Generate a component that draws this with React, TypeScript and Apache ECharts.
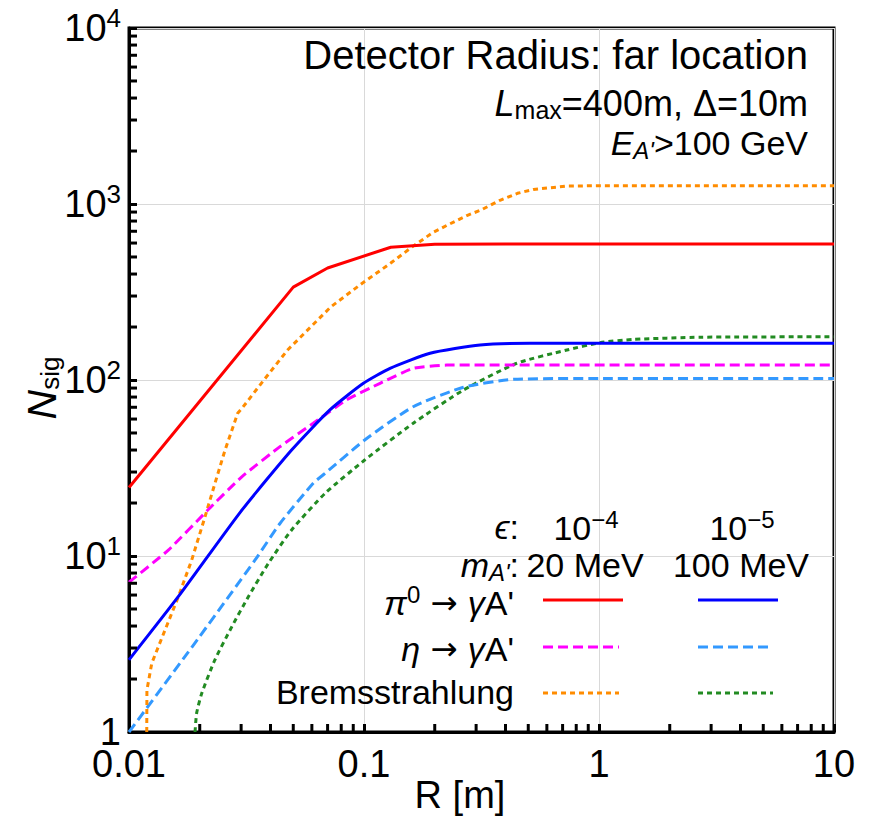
import React, { useEffect, useRef } from "react";
import * as echarts from "echarts";

const FONT = "'Liberation Sans', Arial, Helvetica, sans-serif";

// ---- data (R in m, N_sig) ----
const R_PI0_A = [0.01, 0.05, 0.07, 0.13, 0.2, 0.4, 10];
const N_PI0_A = [24.5, 337, 433, 568, 590, 593, 593];

const R_PI0_B = [0.01, 0.0162, 0.03, 0.0492, 0.0716, 0.0994, 0.129, 0.191, 0.312, 0.508, 10];
const N_PI0_B = [2.57, 5.87, 18, 40, 67.6, 95.8, 116.5, 141.8, 158, 161.6, 162];

const R_ETA_A = [0.01, 0.0147, 0.0217, 0.0302, 0.0439, 0.0608, 0.0843, 0.117, 0.162, 0.225, 10];
const N_ETA_A = [7.1, 10.8, 18.3, 28.2, 41.8, 56.8, 77, 95.8, 116.5, 121.5, 121.7];

const R_ETA_B = [0.01, 0.0185, 0.0344, 0.0439, 0.0608, 0.0683, 0.1007, 0.162, 0.265, 0.432, 1, 10];
const N_ETA_B = [1.0, 3.03, 9.5, 15.3, 25.9, 29.5, 45.6, 70.5, 90.9, 100.9, 102, 102];

const R_BREM_A = [0.0119, 0.01192, 0.0125, 0.01424, 0.01622, 0.01849, 0.02106, 0.02322, 0.02563, 0.029, 0.0305, 0.0375, 0.0473, 0.0595, 0.0724, 0.097, 0.13, 0.163, 0.197, 0.227, 0.274, 0.315, 0.379, 0.45, 0.526, 0.73, 1, 10];
const N_BREM_A = [1.0, 1.73, 2.46, 3.8, 5.87, 9.49, 16.7, 25.9, 40, 64.7, 70, 100, 148, 201, 261, 350, 462, 580, 690, 760, 860, 925, 1050, 1150, 1210, 1265, 1270, 1270];

const R_BREM_B = [0.0191, 0.0194, 0.0204, 0.0232, 0.0274, 0.0322, 0.0392, 0.0492, 0.0683, 0.1007, 0.162, 0.265, 0.447, 0.73, 1.01, 1.4, 2.69, 10];
const N_BREM_B = [1.0, 1.28, 1.66, 2.57, 3.97, 5.87, 9.09, 14.06, 22.7, 35.1, 56.8, 87.7, 124.5, 148, 163, 170, 175, 176];

// ---- axes ----
const X_MIN = 0.01, X_MAX = 10, Y_MIN = 1, Y_MAX = 10000;
const X_TICK_LABELS = ["0.01", "0.1", "1", "10"];
const X_MINOR = [0.02, 0.03, 0.04, 0.05, 0.06, 0.07, 0.08, 0.09, 0.2, 0.3, 0.4, 0.5, 0.6, 0.7, 0.8, 0.9, 2, 3, 4, 5, 6, 7, 8, 9];
const Y_MINOR = [2, 3, 4, 5, 6, 7, 8, 9, 20, 30, 40, 50, 60, 70, 80, 90, 200, 300, 400, 500, 600, 700, 800, 900, 2000, 3000, 4000, 5000, 6000, 7000, 8000, 9000];

const zip = (xs: number[], ys: number[]) => xs.map((x, i) => [x, ys[i]]);

const DASH = [10, 5];
const DOT = [5, 4];

export default function App() {
  const ref = useRef<HTMLDivElement>(null);
  useEffect(() => {
    if (!ref.current) return;
    const chart = echarts.init(ref.current, null, { renderer: "svg" });
    const line = (name: string, data: number[][], color: string, type: any, smooth: number) => ({
      name,
      type: "line",
      data,
      symbol: "none",
      showSymbol: false,
      smooth,
      lineStyle: { color, width: 3, type },
      z: 3,
    });
    const tickLen = 8;
    const richTick = {
      b: { fontSize: 38, fontFamily: FONT, color: "#000" },
      s: { fontSize: 26, fontFamily: FONT, color: "#000", padding: [0, 0, 20, 0] },
    };
    const txt = (x: number, y: number, text: string, size: number, align: string, rich?: any, extra?: any) => ({
      type: "text",
      x,
      y,
      z: 100,
      ...(extra || {}),
      style: {
        text,
        fontSize: size,
        fontFamily: FONT,
        fill: "#000",
        align,
        textAlign: align,
        verticalAlign: "middle",
        textVerticalAlign: "middle",
        rich,
      },
    });
    const richAnn = (size: number, sub: number) => ({
      n: { fontSize: size, fontFamily: FONT },
      i: { fontSize: size, fontFamily: FONT, fontStyle: "italic" },
      ar: { fontSize: size * 0.95, fontFamily: "'DejaVu Sans', sans-serif" },
      sub: { fontSize: sub, fontFamily: FONT, padding: [14, 0, 0, 0] },
      subi: { fontSize: sub, fontFamily: FONT, fontStyle: "italic", padding: [14, 0, 0, 0] },
      s: { fontSize: sub, fontFamily: FONT, padding: [0, 0, 18, 0] },
    });
    const lg = (x1: number, x2: number, y: number, color: string, dash: any) => ({
      type: "line",
      z: 100,
      shape: { x1, y1: y, x2, y2: y },
      style: { stroke: color, lineWidth: 3, lineDash: dash },
    });
    const ra = richAnn(34, 24);
    const rb = richAnn(36, 25);
    chart.setOption({
      animation: false,
      grid: { left: 129, top: 28, right: 35, bottom: 85, show: true, borderColor: "#000", borderWidth: 3, backgroundColor: "transparent" },
      xAxis: {
        type: "log",
        logBase: 10,
        min: X_MIN,
        max: X_MAX,
        axisLine: { show: true, lineStyle: { color: "#000", width: 3 } },
        axisTick: { show: true, inside: true, length: tickLen, lineStyle: { color: "#000", width: 3 } },
        splitLine: { show: true, lineStyle: { color: "#d9d9d9", width: 1 } },
        axisLabel: {
          show: true,
          showMinLabel: true,
          showMaxLabel: true,
          margin: 13,
          fontSize: 38,
          fontFamily: FONT,
          color: "#000",
          formatter: (v: number) => X_TICK_LABELS[Math.round(Math.log10(v)) + 2] ?? "",
        },
      },
      yAxis: {
        type: "log",
        logBase: 10,
        min: Y_MIN,
        max: Y_MAX,
        axisLine: { show: true, lineStyle: { color: "#000", width: 3 } },
        axisTick: { show: true, inside: true, length: tickLen, lineStyle: { color: "#000", width: 3 } },
        splitLine: { show: true, lineStyle: { color: "#d9d9d9", width: 1 } },
        axisLabel: {
          show: true,
          showMinLabel: true,
          showMaxLabel: true,
          margin: 8,
          color: "#000",
          formatter: (v: number) => {
            const e = Math.round(Math.log10(v));
            return e === 0 ? "{b|1}" : `{b|10}{s|${e}}`;
          },
          rich: richTick,
        },
      },
      series: [
        line("brem_b", zip(R_BREM_B, N_BREM_B), "#228b22", DOT, 0.2),
        line("eta_b", zip(R_ETA_B, N_ETA_B), "#3399ff", DASH, 0.2),
        line("brem_a", zip(R_BREM_A, N_BREM_A), "#ff8c00", DOT, 0),
        line("eta_a", zip(R_ETA_A, N_ETA_A), "#ff00ff", DASH, 0.15),
        line("pi0_b", zip(R_PI0_B, N_PI0_B), "#0000ff", "solid", 0.2),
        line("pi0_a", zip(R_PI0_A, N_PI0_A), "#ff0000", "solid", 0),
        {
          type: "custom",
          silent: true,
          clip: false,
          z: 10,
          data: X_MINOR.map((v) => [v, Y_MIN]),
          renderItem: (_p: any, api: any) => {
            const p = api.coord([api.value(0), Y_MIN]);
            return { type: "line", shape: { x1: p[0], y1: p[1], x2: p[0], y2: p[1] - tickLen }, style: { stroke: "#000", lineWidth: 3 } };
          },
        },
        {
          type: "custom",
          silent: true,
          clip: false,
          z: 10,
          data: Y_MINOR.map((v) => [X_MIN, v]),
          renderItem: (_p: any, api: any) => {
            const p = api.coord([X_MIN, api.value(1)]);
            return { type: "line", shape: { x1: p[0], y1: p[1], x2: p[0] + tickLen, y2: p[1] }, style: { stroke: "#000", lineWidth: 3 } };
          },
        },
      ],
      graphic: [
        txt(460, 795, "R [m]", 38, "center"),
        txt(42, 388, "{i|N}{sub|sig}", 38, "center", {
          i: { fontSize: 41, fontFamily: FONT, fontStyle: "italic" },
          sub: { fontSize: 26, fontFamily: FONT, padding: [16, 0, 0, 0] },
        }, { rotation: Math.PI / 2 }),
        txt(808, 55, "Detector Radius: far location", 40, "right"),
        txt(808, 103, "{i|L}{sub|max}{n|=400m, Δ=10m}", 36, "right", rb),
        txt(808, 143, "{i|E}{subi|A'}{n|>100 GeV}", 34, "right", ra),
        txt(519, 527, "{i|ϵ}{n|:}", 34, "right", ra),
        txt(586, 528, "{n|10}{s|−4}", 34, "center", ra),
        txt(742, 528, "{n|10}{s|−5}", 34, "center", ra),
        txt(519, 565, "{i|m}{subi|A'}{n|:}", 34, "right", ra),
        txt(585, 565, "20 MeV", 34, "center"),
        txt(741, 565, "100 MeV", 34, "center"),
        txt(514, 603, "{i|π}{s|0}{ar| → }{i|γ}{n|A'}", 34, "right", ra),
        txt(514, 649, "{i|η}{ar| → }{i|γ}{n|A'}", 34, "right", ra),
        txt(514, 692, "Bremsstrahlung", 34, "right"),
        lg(543, 623, 600, "#ff0000", null),
        lg(698, 778, 600, "#0000ff", null),
        lg(543, 619, 647, "#ff00ff", DASH),
        lg(698, 773, 647, "#3399ff", DASH),
        lg(543, 619, 693, "#ff8c00", DOT),
        lg(698, 773, 693, "#228b22", DOT),
      ],
    });
    return () => chart.dispose();
  }, []);
  return <div ref={ref} style={{ position: "fixed", left: 0, top: 0, width: 869, height: 817, background: "#fff" }} />;
}
